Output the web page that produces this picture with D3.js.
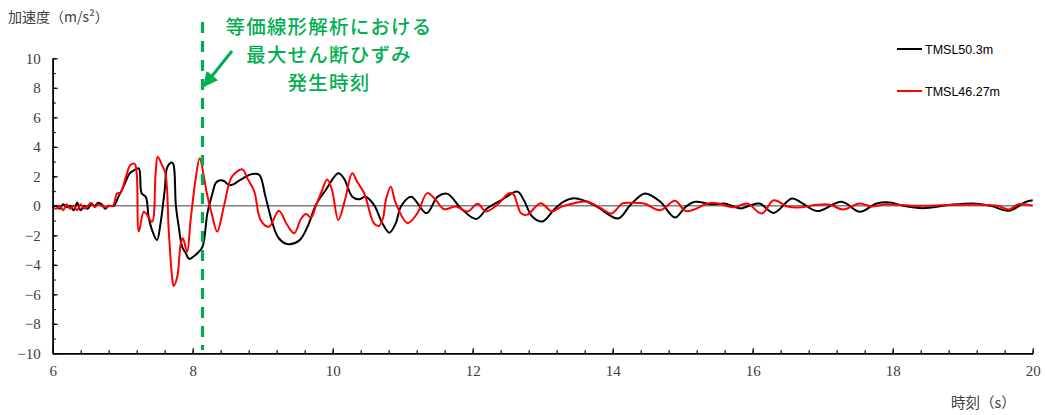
<!DOCTYPE html>
<html><head><meta charset="utf-8">
<script src="https://cdn.jsdelivr.net/npm/d3@7"></script>
<style>
html,body{margin:0;padding:0;background:#fff;}
svg{display:block;}
</style></head>
<body>
<script>
// ---- data ----
const seriesNames = ["TMSL50.3m", "TMSL46.27m"];
const seriesColors = ["#000000", "#ff0000"];
const blackTime = [6.00,6.05,6.10,6.15,6.20,6.25,6.30,6.35,6.40,6.45,6.50,6.55,6.60,6.65,6.70,6.75,6.80,6.87,6.94,7.02,7.10,7.16,7.23,7.27,7.33,7.37,7.42,7.49,7.54,7.60,7.64,7.71,7.76,7.80,7.85,7.90,7.95,8.02,8.07,8.14,8.21,8.28,8.33,8.38,8.44,8.52,8.58,8.66,8.73,8.85,8.95,9.04,9.14,9.23,9.35,9.52,9.64,9.76,9.90,10.08,10.16,10.28,10.38,10.47,10.59,10.71,10.81,10.90,10.98,11.12,11.34,11.50,11.64,11.83,12.05,12.21,12.41,12.64,12.73,12.85,13.00,13.16,13.30,13.45,13.63,13.78,14.08,14.25,14.46,14.68,14.89,15.04,15.18,15.41,15.60,15.70,15.83,15.95,16.10,16.30,16.56,16.70,16.92,17.27,17.53,17.77,17.96,18.15,18.43,18.80,19.15,19.40,19.66,19.90,20.00];
const blackAcc = [-0.1,0.0,-0.2,0.1,-0.1,0.0,-0.3,0.2,-0.3,0.0,-0.2,0.1,0.0,0.2,0.1,-0.2,0.0,0.0,0.62,1.4,2.2,2.4,2.54,0.85,0.6,-0.74,-1.65,-2.32,-1.2,1.07,2.65,2.92,0.0,-1.4,-2.78,-3.2,-3.6,-3.4,-3.2,-2.78,-0.5,0.8,1.55,1.72,1.7,1.4,1.45,1.7,1.9,2.15,2.1,0.62,-1.19,-2.2,-2.59,-2.36,-1.42,0.06,1.07,2.2,1.86,0.62,0.44,0.62,0.06,-1.19,-1.82,-1.19,0.0,0.62,-0.51,0.62,0.81,-0.16,-0.89,-0.16,0.39,0.96,0.39,-0.72,-1.06,-0.27,0.29,0.52,0.29,-0.07,-0.86,0.04,0.84,0.27,-0.79,-0.07,0.27,0.1,0.15,0.0,-0.18,0.0,0.15,-0.48,0.5,0.2,-0.36,0.27,-0.4,0.16,0.23,0.0,-0.16,0.05,0.16,0.0,-0.34,0.27,0.38];
const redTime = [6.00,6.05,6.10,6.15,6.20,6.25,6.30,6.35,6.40,6.45,6.50,6.55,6.60,6.65,6.70,6.75,6.80,6.86,6.92,6.97,7.04,7.11,7.17,7.20,7.23,7.30,7.34,7.42,7.47,7.50,7.56,7.61,7.66,7.71,7.73,7.78,7.83,7.86,7.92,7.97,8.04,8.10,8.16,8.20,8.27,8.35,8.45,8.56,8.71,8.78,8.88,8.97,9.09,9.23,9.35,9.45,9.55,9.62,9.69,9.76,9.85,9.92,9.99,10.08,10.17,10.28,10.35,10.45,10.59,10.66,10.72,10.76,10.83,10.90,11.07,11.21,11.35,11.47,11.59,11.76,11.93,12.07,12.19,12.35,12.52,12.58,12.69,12.78,12.97,13.13,13.28,13.45,13.63,13.83,13.98,14.14,14.26,14.45,14.68,14.89,15.05,15.41,15.74,15.92,16.13,16.30,16.50,16.70,16.90,17.10,17.29,17.53,17.70,17.90,18.30,18.80,19.20,19.50,19.66,19.80,20.00];
const redAcc = [-0.1,-0.2,0.0,-0.3,0.1,-0.2,0.0,-0.3,0.1,-0.2,0.0,0.2,-0.1,0.1,0.0,-0.1,0.0,0.0,0.85,0.9,1.86,2.77,2.85,2.2,-1.75,-0.4,-0.56,-1.08,2.2,3.33,2.77,2.2,-1.86,-5.03,-5.44,-4.8,-2.55,-2.2,-3.11,-0.97,1.75,3.22,1.97,0.9,-0.5,-1.75,0.06,1.97,2.47,1.86,0.97,-0.97,-1.42,-0.33,-1.3,-1.86,-0.86,-0.56,-0.8,0.0,1.07,1.78,1.07,-0.97,0.3,2.2,1.63,0.85,-1.19,-1.37,-0.8,0.4,1.3,0.18,-1.17,-0.5,0.86,0.41,-0.23,-0.05,-0.38,0.14,-0.38,0.07,0.86,0.8,-0.5,-0.6,0.18,-0.38,-0.04,0.18,0.29,-0.16,-0.52,0.16,0.2,0.15,-0.3,0.34,-0.36,0.2,-0.1,0.16,-0.52,0.38,-0.05,-0.1,0.05,0.08,-0.25,0.16,-0.05,0.1,0.0,0.05,0.08,0.0,-0.25,0.11,0.0];
const xMajorTicks = [6, 8, 10, 12, 14, 16, 18, 20];
const xMinorTicks = d3.range(6, 20.001, 0.4);
const yMajorTicks = [-10, -8, -6, -4, -2, 0, 2, 4, 6, 8, 10];
const yMinorTicks = d3.range(-10, 10.001, 1);
const markTime = 8.14;
const yTitle = "加速度（m/s²）";
const xTitle = "時刻（s）";
const noteLines = ["等価線形解析における", "最大せん断ひずみ", "発生時刻"];

// ---- drawing ----
const W = 1045, H = 415;
const svg = d3.select("body").append("svg").attr("width", W).attr("height", H);
const x = d3.scaleLinear().domain([6, 20]).range([52.7, 1032.7]);
const y = d3.scaleLinear().domain([-10, 10]).range([353.3, 58.3]);
const serif = "'Liberation Serif', 'DejaVu Serif', serif";
const cjk = "'Noto Sans CJK JP', 'Noto Sans', sans-serif";
const fmt = d => (d < 0 ? "\u2212" + Math.abs(d) : String(d));

// zero line
svg.append("line").attr("x1", x(6)).attr("x2", x(20)).attr("y1", y(0)).attr("y2", y(0))
  .attr("stroke", "#7f7f7f").attr("stroke-width", 1.5);

// series
const line = d3.line().x(d => x(d[0])).y(d => y(d[1])).curve(d3.curveCatmullRom.alpha(0.5));
const redData = redTime.map((t, i) => [t, redAcc[i]]);
const blackData = blackTime.map((t, i) => [t, blackAcc[i]]);
svg.append("path").datum(blackData).attr("d", line).attr("fill", "none")
  .attr("stroke", seriesColors[0]).attr("stroke-width", 2).attr("stroke-linejoin", "round");
svg.append("path").datum(redData).attr("d", line).attr("fill", "none")
  .attr("stroke", seriesColors[1]).attr("stroke-width", 2).attr("stroke-linejoin", "round");

// axes
const gx = svg.append("g").attr("transform", `translate(0,${y(-10)})`);
gx.call(d3.axisBottom(x).tickValues(xMinorTicks).tickSize(-3).tickSizeOuter(0).tickFormat(""));
const gx2 = svg.append("g").attr("transform", `translate(0,${y(-10)})`);
gx2.call(d3.axisBottom(x).tickValues(xMajorTicks).tickSize(-5).tickSizeOuter(0).tickPadding(12).tickFormat(fmt));
const gy = svg.append("g").attr("transform", `translate(${x(6)},0)`);
gy.call(d3.axisLeft(y).tickValues(yMinorTicks).tickSize(-3).tickSizeOuter(0).tickFormat(""));
const gy2 = svg.append("g").attr("transform", `translate(${x(6)},0)`);
gy2.call(d3.axisLeft(y).tickValues(yMajorTicks).tickSize(-5).tickSizeOuter(0).tickPadding(12).tickFormat(fmt));
svg.selectAll(".domain").attr("stroke", "#000").attr("stroke-width", 1.5);
svg.selectAll(".tick line").attr("stroke", "#000").attr("stroke-width", 1.2);
svg.selectAll(".tick text").attr("font-family", serif).attr("font-size", 15).attr("fill", "#404040");

// axis titles
svg.append("text").attr("x", 8).attr("y", 22).text(yTitle)
  .attr("font-family", cjk).attr("font-size", 14).attr("fill", "#404040");
svg.append("text").attr("x", 951).attr("y", 408).text(xTitle)
  .attr("font-family", cjk).attr("font-size", 14.5).attr("fill", "#404040");

// legend
const legY = [49, 91];
seriesNames.forEach((n, i) => {
  svg.append("line").attr("x1", 897).attr("x2", 922).attr("y1", legY[i]).attr("y2", legY[i])
    .attr("stroke", seriesColors[i]).attr("stroke-width", 2);
  svg.append("text").attr("x", 925).attr("y", legY[i] + 4.5).text(n)
    .attr("font-family", "'Liberation Sans', Arial, sans-serif").attr("font-size", 12.5).attr("fill", "#000");
});

// annotation
const green = "#00b050";
svg.append("line").attr("x1", x(markTime)).attr("x2", x(markTime)).attr("y1", 22).attr("y2", 350)
  .attr("stroke", green).attr("stroke-width", 3.2).attr("stroke-dasharray", "11,8");
const defs = svg.append("defs");
defs.append("marker").attr("id", "ah").attr("viewBox", "0 0 10 10").attr("refX", 9).attr("refY", 5)
  .attr("markerWidth", 5).attr("markerHeight", 5).attr("orient", "auto")
  .append("path").attr("d", "M0,0L10,5L0,10z").attr("fill", green);
svg.append("line").attr("x1", 232).attr("y1", 51).attr("x2", 204).attr("y2", 86)
  .attr("stroke", green).attr("stroke-width", 3).attr("marker-end", "url(#ah)");
noteLines.forEach((s, i) => {
  svg.append("text").attr("x", 329).attr("y", 33.5 + i * 28.4).attr("text-anchor", "middle").text(s)
    .attr("font-family", cjk).attr("font-size", 19.5).attr("letter-spacing", 1.2)
    .attr("font-weight", 500).attr("fill", green);
});
</script>
</body></html>
